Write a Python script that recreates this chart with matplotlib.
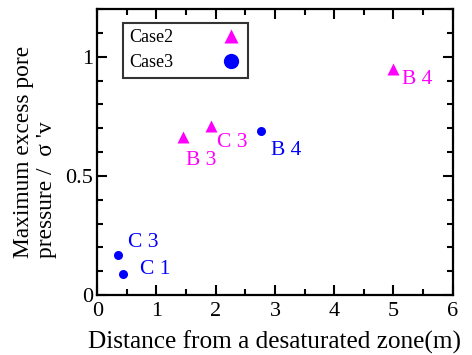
import matplotlib
matplotlib.use("Agg")
import matplotlib.pyplot as plt
from matplotlib.lines import Line2D

plt.rcParams['font.family'] = ['Liberation Serif', 'DejaVu Serif']

# ---- data ----
case2_x = [5.0, 1.92, 1.44]
case2_y = [0.95, 0.71, 0.665]
case2_lbl = ["B 4", "C 3", "B 3"]
case2_lbl_xy = [(5.15, 0.905), (2.02, 0.64), (1.5, 0.565)]

case3_x = [2.76, 0.35, 0.44]
case3_y = [0.69, 0.17, 0.09]
case3_lbl = ["B 4", "C 3", "C 1"]
case3_lbl_xy = [(2.94, 0.605), (0.52, 0.22), (0.72, 0.105)]

magenta = "#ff00ff"
blue = "#0000ff"

fig = plt.figure(figsize=(4.72, 3.55), dpi=100)
ax = fig.add_axes([0.206, 0.169, 0.753, 0.805])

ax.plot(case2_x, case2_y, '^', color=magenta, ms=8, mec='none')
ax.plot(case3_x, case3_y, 'o', color=blue, ms=6.5, mec='none')

for t, (x, y) in zip(case2_lbl, case2_lbl_xy):
    ax.text(x, y, t, color=magenta, fontsize=15.5, va='center', ha='left')
for t, (x, y) in zip(case3_lbl, case3_lbl_xy):
    ax.text(x, y, t, color=blue, fontsize=15.5, va='center', ha='left')

ax.set_xlim(0, 6)
ax.set_ylim(0, 1.2)
ax.set_xticks([0, 1, 2, 3, 4, 5, 6])
ax.set_xticks([0.5 * i for i in range(13)], minor=True)
ax.set_yticks([0, 0.5, 1])
ax.set_yticklabels(["0", "0.5", "1"])
ax.set_yticks([0.1 * i for i in range(13)], minor=True)

ax.tick_params(which='both', direction='in', top=True, right=True, width=1.5,
               labelsize=16)
ax.tick_params(which='major', length=7, pad=3)
ax.tick_params(axis='x', which='major', pad=5)
ax.tick_params(which='minor', length=4)
for s in ax.spines.values():
    s.set_linewidth(1.6)

ax.set_xlabel("Distance from a desaturated zone(m)", fontsize=18.2, labelpad=7)
ax.set_ylabel("Maximum excess pore\npressure /  σ 'v", fontsize=16.8, labelpad=6,
              linespacing=1.1, multialignment='left')

handles = [Line2D([], [], ls='none', marker='^', color=magenta, ms=10, mec='none'),
           Line2D([], [], ls='none', marker='o', color=blue, ms=11, mec='none')]
leg = ax.legend(handles, ['Case2', 'Case3'], loc='upper left',
                bbox_to_anchor=(0.072, 0.952), markerfirst=False,
                fontsize=13, frameon=True, fancybox=False,
                edgecolor='black', handlelength=1.2, handletextpad=2.6,
                borderpad=0.35, labelspacing=0.45, borderaxespad=0)
leg.get_frame().set_linewidth(1.5)

fig.savefig("out.png", dpi=100)
